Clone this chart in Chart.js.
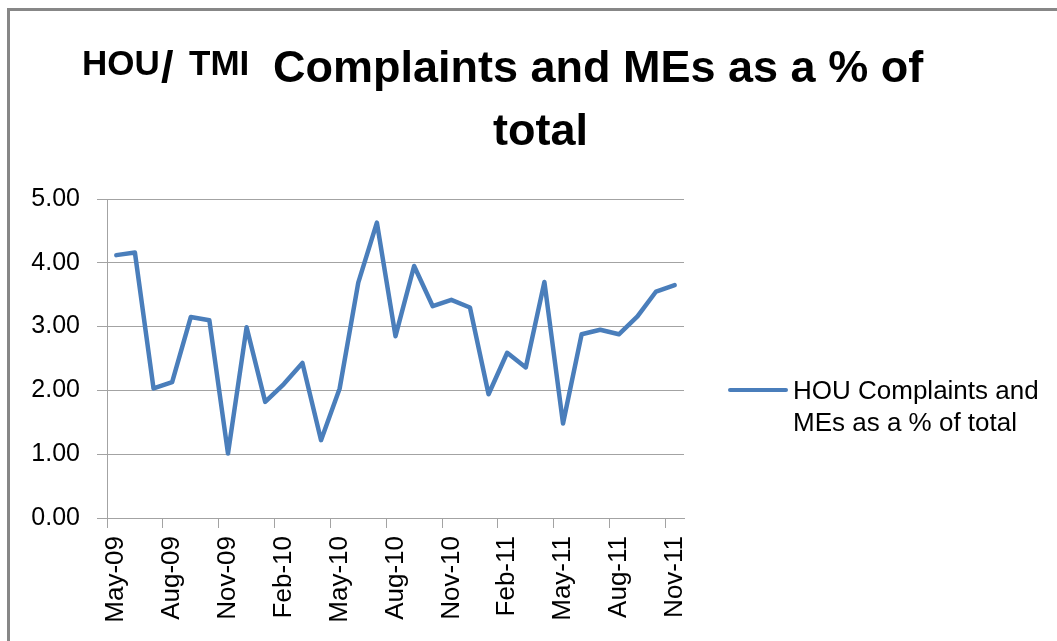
<!DOCTYPE html>
<html>
<head>
<meta charset="utf-8">
<script src="https://cdn.jsdelivr.net/npm/chart.js@4/dist/chart.umd.min.js"></script>
<style>
  html, body { margin: 0; padding: 0; background: #ffffff; }
  #wrap { position: relative; width: 1057px; height: 641px; overflow: hidden; background: #fff; }
  #frame { position: absolute; left: 7px; top: 8px; right: -10px; bottom: -10px;
           border-top: 3px solid #878787; border-left: 3px solid #878787; }
  #chart { position: absolute; left: 0; top: 0; }
  .t { position: absolute; white-space: nowrap; line-height: 1; font-family: "Liberation Sans", Arial, sans-serif;
       font-weight: bold; color: #000; }
  #legend { position: absolute; left: 728px; top: 374px; font-family: "Liberation Sans", Arial, sans-serif;
            font-size: 26px; line-height: 32px; color: #000; }
  #legend .swatch { position: absolute; left: 0; top: 14px; width: 60px; height: 4px; border-radius: 2px; }
  #legend .txt { position: absolute; left: 65px; top: 0; width: 258px; }
</style>
</head>
<body>
<div id="wrap">
  <div id="frame"></div>
  <canvas id="chart" width="1057" height="641"></canvas>
  <div class="t" style="left:82px; top:45px; font-size:35px;">HOU</div>
  <div class="t" style="left:161px; top:44px; font-size:45px;">/</div>
  <div class="t" style="left:189px; top:45px; font-size:35px;">TMI</div>
  <div class="t" style="left:273px; top:44px; font-size:45px;">Complaints and MEs as a % of</div>
  <div class="t" style="left:493px; top:107px; font-size:45px;">total</div>
  <div id="legend"></div>
</div>
<script>
const months = ['May-09','Jun-09','Jul-09','Aug-09','Sep-09','Oct-09','Nov-09','Dec-09',
  'Jan-10','Feb-10','Mar-10','Apr-10','May-10','Jun-10','Jul-10','Aug-10','Sep-10','Oct-10',
  'Nov-10','Dec-10','Jan-11','Feb-11','Mar-11','Apr-11','May-11','Jun-11','Jul-11','Aug-11',
  'Sep-11','Oct-11','Nov-11'];
const houPct = [4.12, 4.16, 2.03, 2.13, 3.15, 3.10, 1.01, 2.99, 1.82, 2.10, 2.43, 1.22,
  2.03, 3.69, 4.63, 2.85, 3.95, 3.32, 3.42, 3.30, 1.94, 2.59, 2.36, 3.70, 1.48, 2.88,
  2.95, 2.88, 3.16, 3.55, 3.65];
const seriesLabel = 'HOU Complaints and MEs as a % of total';
const labelStep = 3;
const yMin = 0, yMax = 5, yStep = 1;

const lineColor = '#4a7ebb';
const gridColor = '#a3a3a3';

const chart = new Chart(document.getElementById('chart'), {
  type: 'line',
  data: {
    labels: months,
    datasets: [{
      label: seriesLabel,
      data: houPct,
      borderColor: lineColor,
      backgroundColor: lineColor,
      borderWidth: 4.5,
      borderJoinStyle: 'round',
      borderCapStyle: 'round',
      pointRadius: 0,
      tension: 0,
      fill: false
    }]
  },
  options: {
    responsive: false,
    animation: false,
    devicePixelRatio: 1,
    layout: { padding: { left: 0, top: 199, right: 373, bottom: 0 } },
    plugins: { legend: { display: false }, title: { display: false }, tooltip: { enabled: false } },
    scales: {
      x: {
        type: 'category',
        offset: true,
        afterFit: (s) => { s.height = 123; },
        border: { display: true, color: gridColor, width: 1 },
        grid: {
          offset: true,
          drawOnChartArea: false,
          drawTicks: true,
          tickLength: 10,
          color: (ctx) => (ctx.index % labelStep === 0 ? gridColor : 'rgba(0,0,0,0)')
        },
        ticks: {
          autoSkip: false,
          minRotation: 90,
          maxRotation: 90,
          padding: 8,
          color: '#000',
          font: { family: '"Liberation Sans", Arial, sans-serif', size: 26 },
          callback: function (v, i) { return i % labelStep === 0 ? this.getLabelForValue(v) : ''; }
        }
      },
      y: {
        min: yMin,
        max: yMax,
        afterFit: (s) => { s.width = 107; },
        border: { display: true, color: gridColor, width: 1 },
        grid: { color: gridColor, lineWidth: 1, drawTicks: true, tickLength: 10 },
        ticks: {
          stepSize: yStep,
          padding: 17,
          color: '#000',
          font: { family: '"Liberation Sans", Arial, sans-serif', size: 25 },
          callback: (v) => Number(v).toFixed(2)
        }
      }
    }
  }
});

// HTML legend built from the dataset
const lg = document.getElementById('legend');
chart.data.datasets.forEach((ds) => {
  const sw = document.createElement('div');
  sw.className = 'swatch';
  sw.style.background = ds.borderColor;
  const tx = document.createElement('div');
  tx.className = 'txt';
  tx.textContent = ds.label;
  lg.appendChild(sw);
  lg.appendChild(tx);
});
</script>
</body>
</html>
